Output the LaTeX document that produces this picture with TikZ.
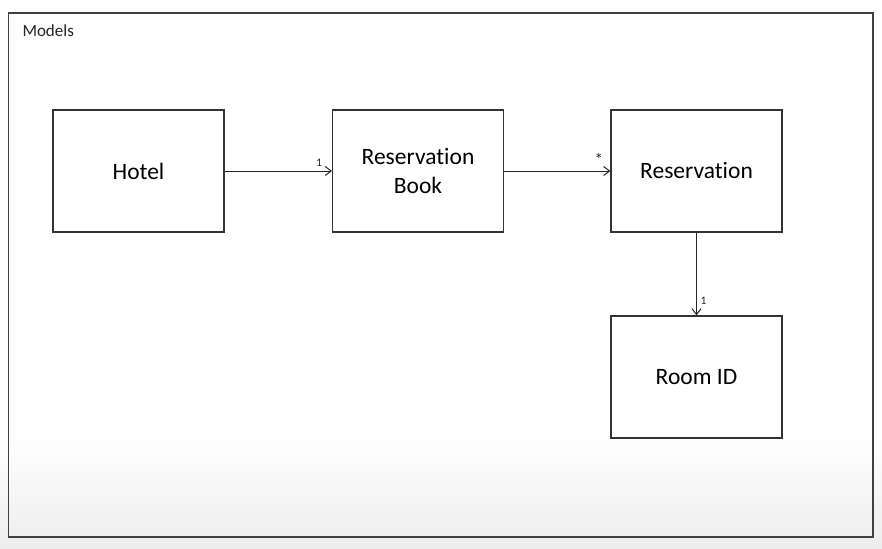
\documentclass[tikz,border=0pt]{standalone}
\usepackage{fontspec}
\setmainfont{Carlito}[Ligatures=NoCommon]
\usetikzlibrary{arrows.meta}

\tikzstyle{box} = [draw=black!80, line width=1.1pt, minimum width=171pt, minimum height=122pt, text centered, align=center, inner sep=0pt, font=\fontsize{23.5}{29}\selectfont]
\tikzstyle{lbl} = [text centered, inner sep=1.5pt, font=\fontsize{11.5}{13}\selectfont]

\begin{document}
\begin{tikzpicture}[x=1pt, y=-1pt,
>={Straight Barb[length=6pt,width=9pt]},
line width=1pt,
]

% Background
\useasboundingbox (0,0) rectangle (882,548);
\fill[white] (0,0) rectangle (882,548);
\shade[top color=white, bottom color=black!7] (0,435) rectangle (882,548);

% Frame
\draw[black!75, line width=1.4pt] (8.5,13) rectangle (873,537);
\node[anchor=west, inner sep=0pt, font=\fontsize{17}{20}\selectfont, text=black!85] (models) at (22,31) {Models};

%HOTEL
\node[box] (hotel) at (138.5,171) {Hotel};

%RESERVATION BOOK
\node[box] (rbook) at (418,171) {Reservation\\Book};

%RESERVATION
\node[box] (reserv) at (696.5,171) {Reservation};

%ROOM ID
\node[box] (room) at (696.5,377) {Room ID};

% associations
\draw[->, black!85] (hotel) -- node[lbl, pos=0.88, above, yshift=2pt] {1} (rbook);
\draw[->, black!85] (rbook) -- node[lbl, pos=0.89, above, yshift=4pt, font=\fontsize{17}{17}\selectfont] {*} (reserv);
\draw[->, black!85] (reserv) -- node[lbl, pos=0.82, right, xshift=2pt] {1} (room);

\end{tikzpicture}
\end{document}
